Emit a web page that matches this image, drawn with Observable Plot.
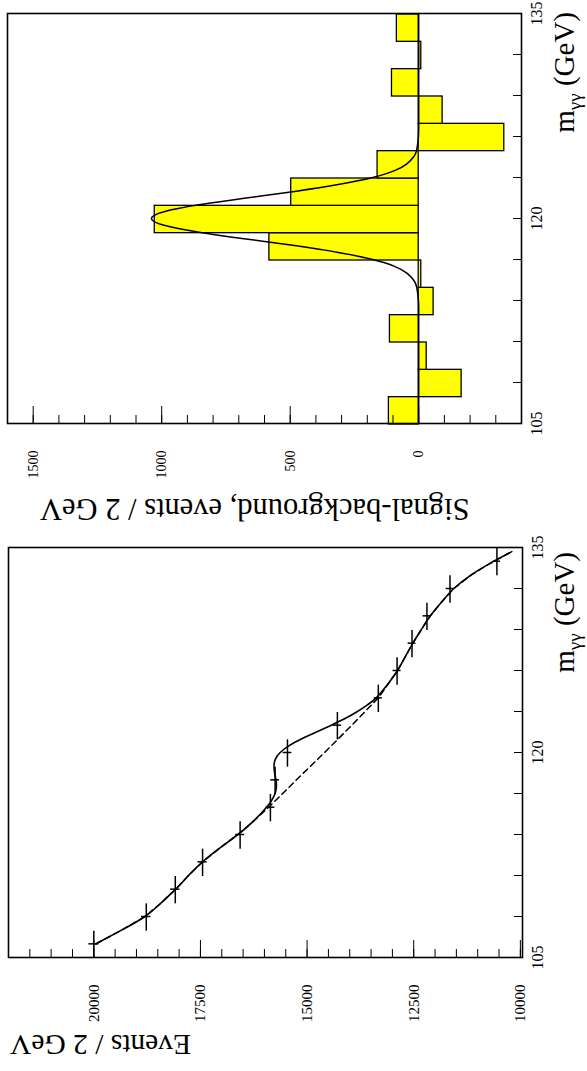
<!DOCTYPE html>
<html>
<head>
<meta charset="utf-8">
<script src="https://cdn.jsdelivr.net/npm/d3@7"></script>
<script src="https://cdn.jsdelivr.net/npm/@observablehq/plot@0.6"></script>
<style>
html,body{margin:0;padding:0;background:#fff;overflow:hidden;width:587px;height:1071px}
#wrap{position:absolute;left:0;top:0;width:1071px;height:587px;transform-origin:0 0;transform:translateY(1071px) rotate(-90deg);background:#fff}
#p1{position:absolute;left:0;top:0}
#p2{position:absolute;left:535px;top:0}
svg{display:block}
</style>
</head>
<body>
<div id="wrap"><div id="p1"></div><div id="p2"></div></div>
<script>
// ---------- data (left panel: events / 2 GeV) ----------
const massCenters = [106,108,110,112,114,116,118,120,122,124,126,128,130,132,134];
const events      = [20000,18770,18090,17450,16570,15860,15750,15460,14290,13330,12890,12540,12190,11650,10550];
const eventErr    = [115,112,110,108,106,104,103,102,99,96,94,92,91,89,85];

const bgMass   = [106,107,108,109,110,111,112,113,114,115,116,117,118,119,120,121,122,123,124,125,126,127,128,129,130,131,132,133,134,134.7];
const bgEvents = [19950,19350,18800,18420,18080,17780,17450,17050,16620,16250,15900,15570,15250,14920,14590,14270,13950,13640,13330,13100,12880,12700,12520,12320,12110,11850,11560,11150,10620,10200];

const fitMass   = [106,107,108,109,110,111,112,113,114,115,116,116.5,117,117.5,118,118.5,119,119.5,120,120.5,121,121.5,122,122.5,123,123.5,124,125,126,127,128,129,130,131,132,133,134,134.7];
const fitEvents = [19950,19350,18800,18420,18080,17780,17450,17050,16620,16250,15950,15830,15750,15720,15730,15760,15775,15745,15630,15420,15125,14780,14430,14100,13820,13580,13380,13110,12880,12700,12520,12320,12110,11850,11560,11150,10620,10200];

// ---------- data (right panel: signal - background) ----------
const binLow    = [105,107,109,111,113,115,117,119,121,123,125,127,129,131,133];
const binHigh   = [107,109,111,113,115,117,119,121,123,125,127,129,131,133,135];
const sigMinusBg = [116,-167,-31,112,-58,-10,581,1027,496,160,-333,-93,104,-10,85];

const gaussMass = [105,110,113,114,115,115.5,116,116.5,117,117.5,118,118.5,119,119.5,120,120.5,121,121.5,122,122.5,123,123.5,124,124.5,125,126,127,130,135];
const gaussVal  = [0,0,0,1,8,20,46,94,179,308,476,672,855,991,1040,991,855,672,476,308,179,94,46,20,8,1,0,0,0];

// ---------- ticks ----------
const massTicks   = [108,111,114,117,120,123,126,129,132];
const massLabels  = [105,120,135];
const evMajor     = [10000,12500,15000,17500,20000];
const evMinor     = [10000,10500,11000,11500,12000,12500,13000,13500,14000,14500,15000,15500,16000,16500,17000,17500,18000,18500,19000,19500,20000,20500,21000,21500];
const diffMajor   = [0,500,1000,1500];
const diffMinor   = [-300,-200,-100,0,100,200,300,400,500,600,700,800,900,1000,1100,1200,1300,1400,1500];

const serif = "'Liberation Serif','Times New Roman',serif";
const H = 587;

// ---------- panel 1 ----------
const pts = massCenters.map((m,i)=>({m, n: events[i], e: eventErr[i]}));
const bgRows = bgMass.map((m,i)=>({m, n: bgEvents[i]}));
const fitRows = fitMass.map((m,i)=>({m, n: fitEvents[i]}));
const m1 = {l:113, r:12, t:8, b:65}, W1 = 535;
const iw1 = W1 - m1.l - m1.r, ih1 = H - m1.t - m1.b;

const p1 = Plot.plot({
  width: W1, height: H,
  marginLeft: m1.l, marginRight: m1.r, marginTop: m1.t, marginBottom: m1.b,
  style: {fontFamily: serif, background: "white", color: "black", overflow: "visible"},
  x: {domain: [105, 135]},
  y: {domain: [9950, 22000]},
  marks: [
    Plot.tickX(massTicks, {x: d=>d, insetTop: ih1 - 8, stroke: "black", strokeWidth: 1}),
    Plot.tickY(evMinor, {y: d=>d, insetRight: iw1 - 9, stroke: "black", strokeWidth: 1}),
    Plot.tickY(evMajor, {y: d=>d, insetRight: iw1 - 18, stroke: "black", strokeWidth: 1}),
    Plot.axisX(massLabels, {tickSize: 0, tickPadding: 9, fontSize: 16, label: null, tickFormat: "d"}),
    Plot.axisY(evMajor, {tickSize: 0, tickPadding: 27, fontSize: 15, label: null, tickFormat: "d"}),
    Plot.line(bgRows, {x: "m", y: "n", stroke: "black", strokeWidth: 1.5, strokeDasharray: "6,4", clip: true}),
    Plot.line(fitRows, {x: "m", y: "n", stroke: "black", strokeWidth: 1.6, curve: "natural", clip: true}),
    Plot.ruleX(pts, {x: "m", y1: d=>d.n - d.e, y2: d=>d.n + d.e, stroke: "black", strokeWidth: 1.5}),
    Plot.ruleY(pts, {y: "n", x1: d=>d.m - 1, x2: d=>d.m + 1, stroke: "black", strokeWidth: 1.5}),
    Plot.frame({stroke: "black", strokeWidth: 1.6})
  ]
});
document.getElementById("p1").append(p1);

// ---------- panel 2 ----------
const bins = binLow.map((lo,i)=>({lo, hi: binHigh[i], v: sigMinusBg[i]}));
const gRows = gaussMass.map((m,i)=>({m, v: gaussVal[i]}));
const m2 = {l:112, r:14, t:7, b:66}, W2 = 536;
const iw2 = W2 - m2.l - m2.r, ih2 = H - m2.t - m2.b;

const p2 = Plot.plot({
  width: W2, height: H,
  marginLeft: m2.l, marginRight: m2.r, marginTop: m2.t, marginBottom: m2.b,
  style: {fontFamily: serif, background: "white", color: "black", overflow: "visible"},
  x: {domain: [105, 135]},
  y: {domain: [-400, 1600]},
  marks: [
    Plot.rectY(bins, {x1: "lo", x2: "hi", y1: 0, y2: "v", fill: "#ffff00", stroke: "black", strokeWidth: 1.3}),
    Plot.line(gRows, {x: "m", y: "v", stroke: "black", strokeWidth: 1.5, curve: "natural"}),
    Plot.tickX(massTicks, {x: d=>d, insetTop: ih2 - 8, stroke: "black", strokeWidth: 1}),
    Plot.tickY(diffMinor, {y: d=>d, insetRight: iw2 - 9, stroke: "black", strokeWidth: 1}),
    Plot.tickY(diffMajor, {y: d=>d, insetRight: iw2 - 18, stroke: "black", strokeWidth: 1}),
    Plot.axisX(massLabels, {tickSize: 0, tickPadding: 9, fontSize: 16, label: null, tickFormat: "d"}),
    Plot.axisY(diffMajor, {tickSize: 0, tickPadding: 27, fontSize: 14, label: null, tickFormat: "d"}),
    Plot.frame({stroke: "black", strokeWidth: 1.6})
  ]
});
document.getElementById("p2").append(p2);

// ---------- axis titles ----------
function massTitle(svg, xEnd) {
  const t = d3.select(svg).append("text")
    .attr("x", xEnd).attr("y", 574)
    .attr("text-anchor", "end")
    .attr("font-family", serif).attr("font-size", 29).attr("fill", "black");
  t.append("tspan").text("m");
  t.append("tspan").attr("font-size", 19).attr("dy", 7).text("γγ");
  t.append("tspan").attr("dy", -7).text(" (GeV)");
}
function yTitle(svg, x, yEnd, label, size) {
  d3.select(svg).append("text")
    .attr("transform", `translate(${x},${yEnd}) rotate(-90)`)
    .attr("text-anchor", "end").attr("dy", "0.35em")
    .attr("font-family", serif).attr("font-size", size).attr("fill", "black")
    .text(label);
}
massTitle(p1, W1 - m1.r - 4);
massTitle(p2, W2 - m2.r + 2);
yTitle(p1, 26, 10, "Events / 2 GeV", 29.5);
yTitle(p2, 26, 40, "Signal-background, events / 2 GeV", 30.5);
</script>
</body>
</html>
